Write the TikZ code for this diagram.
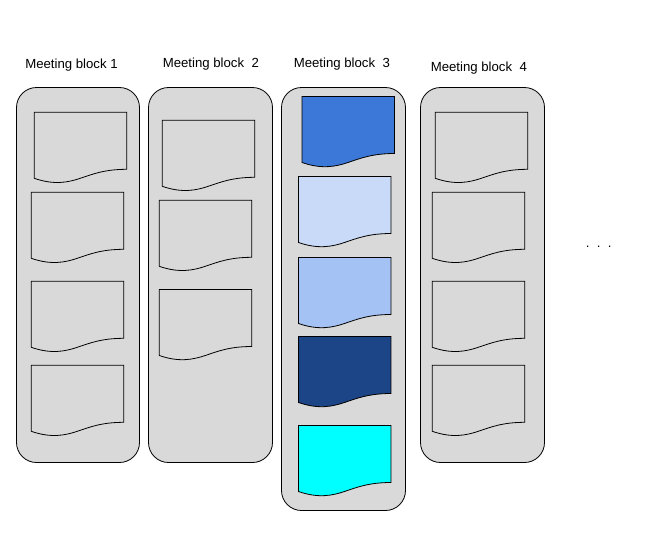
\documentclass[tikz,border=0pt]{standalone}
\usepackage{fontspec}
\setmainfont{Liberation Sans}
\definecolor{blockgray}{HTML}{D9D9D9}
\definecolor{docA}{HTML}{3C78D8}
\definecolor{docB}{HTML}{C9DAF8}
\definecolor{docC}{HTML}{A4C2F4}
\definecolor{docD}{HTML}{1C4587}
\definecolor{docE}{HTML}{00FFFF}
\tikzset{
  blockbox/.style={draw=black,fill=blockgray,line width=0.6pt,rounded corners=15pt},
  docshape/.style={draw=black,line width=0.6pt,line join=miter},
  blocklabel/.style={font=\fontsize{9.9pt}{11pt}\selectfont,inner sep=0pt,text=black},
}
% #1 = fill, #2 = left, #3 = top (pixels)
\newcommand{\docpage}[3]{%
  \begin{scope}[shift={(#2,#3)}]
  \draw[docshape,fill=#1] (0,0) -- (92.4,0) -- (92.4,57)
    .. controls (70,57) and (58,62) .. (46,66)
    .. controls (34,70) and (20,73) .. (0,66) -- cycle;
  \end{scope}}
\begin{document}
\begin{tikzpicture}[x=0.75pt,y=-0.75pt]
\useasboundingbox (0,0) rectangle (651,540);
\fill[white] (0,0) rectangle (651,540);
\draw[blockbox] (16.5,87.5) rectangle (139.5,462.5);
\draw[blockbox] (148.5,87.5) rectangle (272.5,462.5);
\draw[blockbox] (281.5,87.5) rectangle (405.5,510.5);
\draw[blockbox] (420.5,87.5) rectangle (544.5,462.5);
\node[blocklabel,anchor=west] (labelA) at (25,65.5) {Meeting block 1};
\node[blocklabel,anchor=west] (labelB) at (162.5,64.5) {Meeting block\ \ 2};
\node[blocklabel,anchor=west] (labelC) at (293.5,64.5) {Meeting block\ \ 3};
\node[blocklabel,anchor=west] (labelD) at (430.5,68.5) {Meeting block\ \ 4};
\node[blocklabel,anchor=west] (dots) at (585.5,246.5) {.\ \ .\ \ .};
\docpage{blockgray}{34.3}{112.3}
\docpage{blockgray}{31.3}{192.3}
\docpage{blockgray}{31.3}{281.3}
\docpage{blockgray}{31.3}{365.3}
\docpage{blockgray}{162.3}{120.3}
\docpage{blockgray}{159.3}{200.3}
\docpage{blockgray}{159.3}{289.5}
\docpage{docA}{302}{96.5}
\docpage{docB}{298.5}{176.5}
\docpage{docC}{298.5}{257.5}
\docpage{docD}{298.5}{336.5}
\docpage{docE}{298.5}{425.5}
\docpage{blockgray}{435.3}{112.3}
\docpage{blockgray}{432.3}{192.3}
\docpage{blockgray}{432.3}{281.3}
\docpage{blockgray}{432.3}{365.3}
\end{tikzpicture}
\end{document}
